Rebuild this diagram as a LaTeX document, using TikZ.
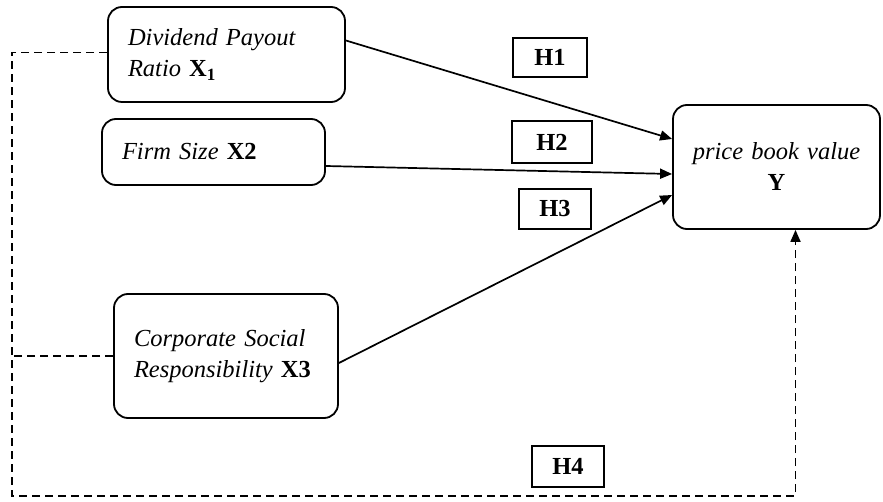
\documentclass[tikz,border=0pt]{standalone}
\usepackage{fontspec}
\setmainfont[WordSpace=0.8]{Liberation Serif}
\usetikzlibrary{arrows.meta,calc}
\newcommand\vlab[1]{\textup{\bfseries #1}}
\tikzset{
  var/.style={draw,rounded corners=14pt,line width=1.8pt,align=left,inner xsep=20pt,
    font=\fontsize{24.5}{31}\selectfont\itshape},
  hyp/.style={draw,line width=1.7pt,font=\fontsize{24.5}{28}\selectfont\bfseries},
  effect/.style={line width=1.7pt,-{Triangle[length=12pt,width=10pt]}},
  link/.style={line width=1.8pt,dash pattern=on 8pt off 5pt},
}
\begin{document}
\begin{tikzpicture}[x=1pt,y=-1pt]
  \useasboundingbox (0,0) rectangle (883,502);
  % variables
  \node[var,text width=197pt,minimum width=237pt,minimum height=95pt] (x1) at (226.5,54.5)
    {Dividend Payout\\Ratio \vlab{X\textsubscript{1}}};
  \node[var,text width=183pt,minimum width=223pt,minimum height=66pt] (x2) at (213.5,152)
    {Firm Size \vlab{X2}};
  \node[var,text width=184pt,minimum width=224pt,minimum height=124pt] (x3) at (226,356)
    {Corporate Social\\Responsibility \vlab{X3}};
  \node[var,align=center,inner xsep=8pt,text width=191pt,minimum width=207pt,minimum height=124pt] (y) at (776.5,167)
    {price book value\\\vlab{Y}};
  % hypotheses
  \node[hyp,minimum width=74pt,minimum height=39pt] (h1) at (550,57.5) {H1};
  \node[hyp,minimum width=80pt,minimum height=42pt] (h2) at (552,142) {H2};
  \node[hyp,minimum width=72pt,minimum height=40pt] (h3) at (555,209) {H3};
  \node[hyp,minimum width=72pt,minimum height=41pt] (h4) at (568,466.5) {H4};
  % direct effects
  \draw[effect] ($(x1.east)+(0,-14)$) -- ($(y.west)+(0,-28)$);
  \draw[effect] ($(x2.east)+(0,14)$) -- ($(y.west)+(0,7)$);
  \draw[effect] ($(x3.east)+(0,7)$) -- ($(y.west)+(0,28)$);
  % simultaneous effect
  \coordinate (bl) at (12,496);
  \coordinate (ybot) at ($(y.south)+(19,0)$);
  \draw[link] ($(x2.west)+(0,13)$) -- ($(x2.west)+(0,13)$ -| bl);
  \draw[link] (x3.west) -- (x3.west -| bl);
  \draw[link,-{Triangle[length=12pt,width=10pt]}] ($(x1.west)+(0,-2)$) -| (bl) -| (ybot);
\end{tikzpicture}
\end{document}
